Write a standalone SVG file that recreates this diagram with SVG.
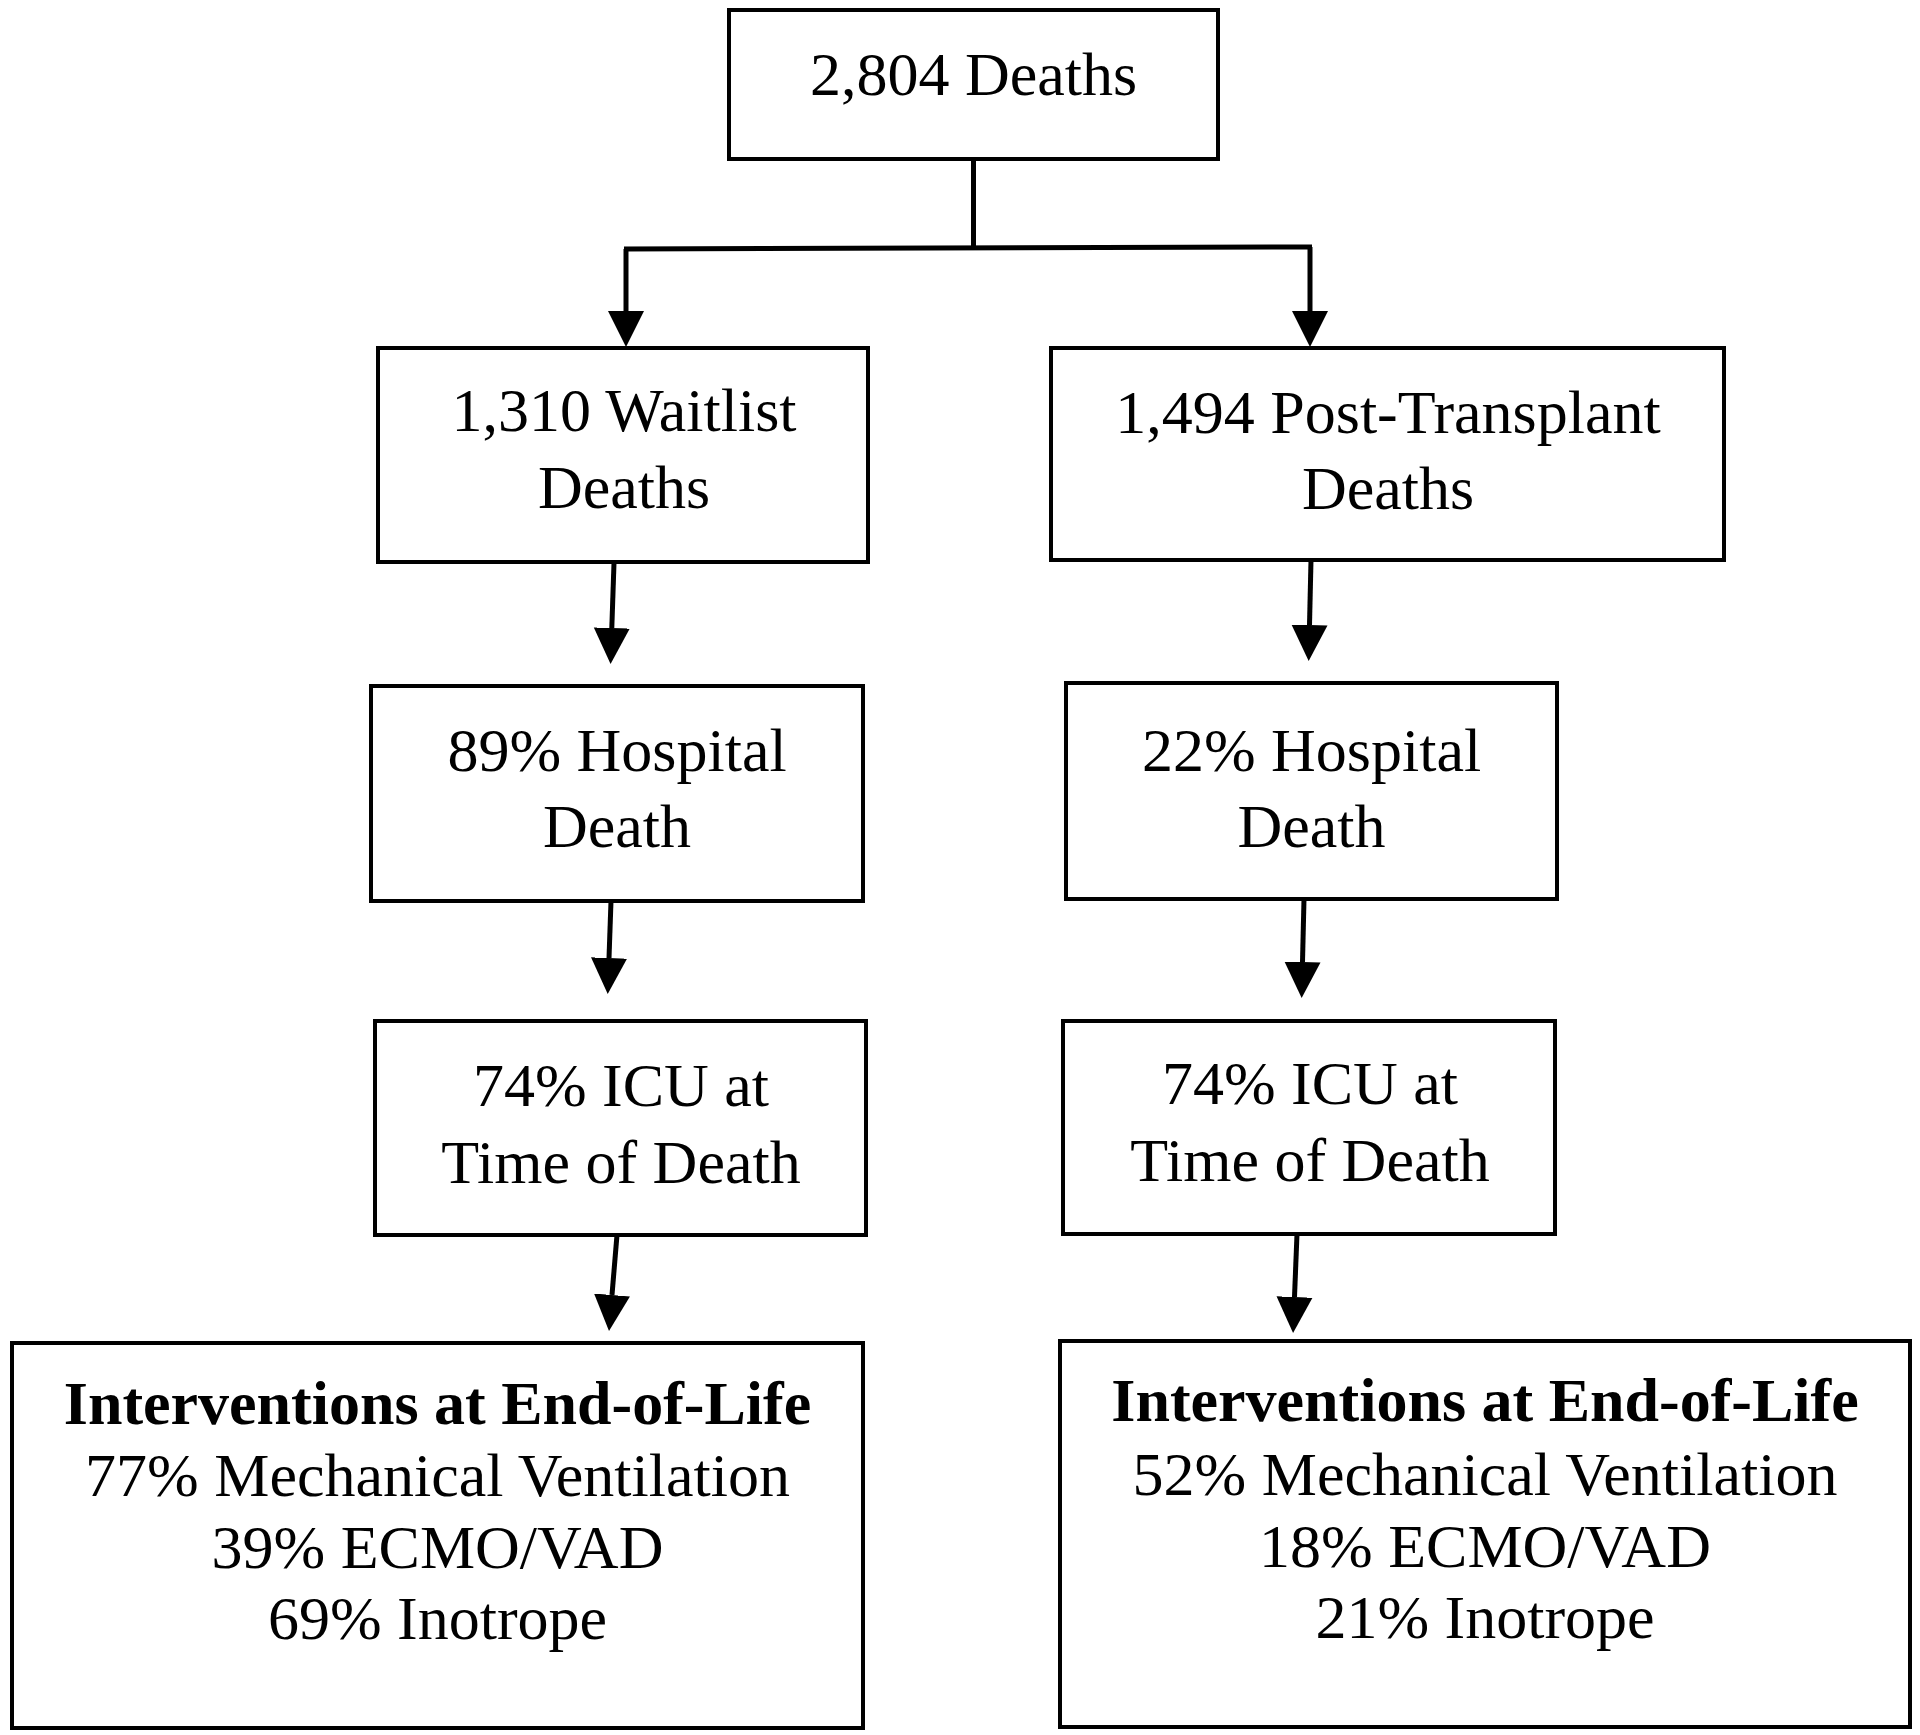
<svg xmlns="http://www.w3.org/2000/svg" width="1920" height="1735" viewBox="0 0 1920 1735">
<style>
.box{fill:#fff;stroke:#000;stroke-width:4}
.t{font-family:"Liberation Serif","Times New Roman",serif;font-size:62px;fill:#000;text-anchor:middle}
.b{font-weight:bold}
.c{fill:none;stroke:#000;stroke-width:5}
</style>
<defs>
<marker id="ah" markerUnits="userSpaceOnUse" markerWidth="40" markerHeight="40" viewBox="0 -20 40 40" refX="0" refY="0" orient="auto">
<path d="M0,-18 L36,0 L0,18 Z" fill="#000"/>
</marker>
</defs>
<rect width="1920" height="1735" fill="#fff"/>
<g id="connectors">
<path class="c" d="M973.5,159 L973.5,249"/>
<path class="c" d="M624,249 L1312,247"/>
<path class="c" d="M626,249 L626,311" marker-end="url(#ah)"/>
<path class="c" d="M1310,247 L1310,311" marker-end="url(#ah)"/>
<path class="c" d="M614,563 L611.8,628" marker-end="url(#ah)"/>
<path class="c" d="M1311,560 L1309.5,625" marker-end="url(#ah)"/>
<path class="c" d="M611,901 L609,958" marker-end="url(#ah)"/>
<path class="c" d="M1304,899 L1302.5,962" marker-end="url(#ah)"/>
<path class="c" d="M617,1235 L612,1295" marker-end="url(#ah)"/>
<path class="c" d="M1297,1234 L1294.5,1297" marker-end="url(#ah)"/>
</g>
<g id="n1">
<rect class="box" x="729" y="10" width="489" height="149"/>
<text class="t" x="973.5" y="95">2,804 Deaths</text>
</g>
<g id="n2">
<rect class="box" x="378" y="348" width="490" height="214"/>
<text class="t" x="624" y="431">1,310 Waitlist</text>
<text class="t" x="624" y="508">Deaths</text>
</g>
<g id="n3">
<rect class="box" x="1051" y="348" width="673" height="212"/>
<text class="t" x="1388" y="433">1,494 Post-Transplant</text>
<text class="t" x="1388" y="509">Deaths</text>
</g>
<g id="n4">
<rect class="box" x="371" y="686" width="492" height="215"/>
<text class="t" x="617" y="771">89% Hospital</text>
<text class="t" x="617" y="847">Death</text>
</g>
<g id="n5">
<rect class="box" x="1066" y="683" width="491" height="216"/>
<text class="t" x="1311.5" y="771">22% Hospital</text>
<text class="t" x="1311.5" y="847">Death</text>
</g>
<g id="n6">
<rect class="box" x="375" y="1021" width="491" height="214"/>
<text class="t" x="621" y="1106">74% ICU at</text>
<text class="t" x="621" y="1183">Time of Death</text>
</g>
<g id="n7">
<rect class="box" x="1063" y="1021" width="492" height="213"/>
<text class="t" x="1310" y="1104">74% ICU at</text>
<text class="t" x="1310" y="1181">Time of Death</text>
</g>
<g id="n8">
<rect class="box" x="12" y="1343" width="851" height="385"/>
<text class="t b" x="437.5" y="1424">Interventions at End-of-Life</text>
<text class="t" x="437.5" y="1496">77% Mechanical Ventilation</text>
<text class="t" x="437.5" y="1568">39% ECMO/VAD</text>
<text class="t" x="437.5" y="1639">69% Inotrope</text>
</g>
<g id="n9">
<rect class="box" x="1060" y="1341" width="850" height="386"/>
<text class="t b" x="1485" y="1421">Interventions at End-of-Life</text>
<text class="t" x="1485" y="1495">52% Mechanical Ventilation</text>
<text class="t" x="1485" y="1567">18% ECMO/VAD</text>
<text class="t" x="1485" y="1638">21% Inotrope</text>
</g>
</svg>
